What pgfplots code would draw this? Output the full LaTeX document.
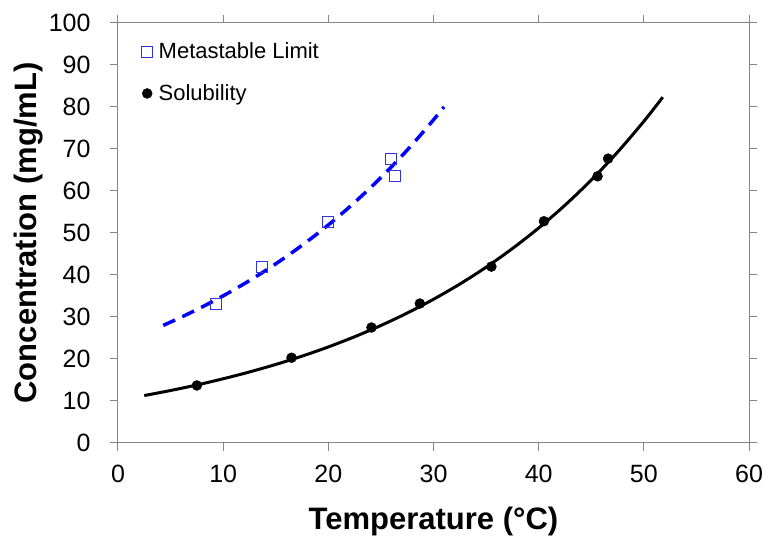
\documentclass[border=0pt]{standalone}
\usepackage{pgfplots}
\pgfplotsset{compat=1.18}
\usepackage{fontspec}
\setmainfont{Liberation Sans}
\definecolor{axgray}{RGB}{134,134,134}
\definecolor{sqblue}{RGB}{50,50,220}
\begin{document}
\begin{tikzpicture}
\begin{axis}[
  at={(0,0)}, anchor=south west,
  scale only axis,
  width=631pt, height=420pt,
  xmin=0, xmax=60, ymin=0, ymax=100,
  xtick={0,10,...,60}, ytick={0,10,...,100},
  tick align=outside,
  major tick length=8pt,
  axis line style={axgray, line width=1pt},
  every tick/.style={axgray, line width=1pt},
  tick label style={font=\fontsize{25}{29}\selectfont},
  xticklabel style={yshift=-11pt},
  yticklabel style={xshift=-16pt},
  /pgf/number format/assume math mode=true,
  xlabel={\textbf{Temperature (°C)}},
  ylabel={\textbf{Concentration (mg/mL)}},
  label style={font=\fontsize{31}{36}\selectfont},
  xlabel style={at={(axis description cs:0.5,-0.1857)}, anchor=center},
  ylabel style={at={(axis description cs:-0.1410,0.5)}, anchor=center},
  legend style={draw=none, fill=none, at={(axis description cs:0,1)}, anchor=north west,
    xshift=23.5pt, yshift=-18.7pt, inner sep=0pt, column sep=5pt,
    font=\fontsize{22}{26}\selectfont, row sep=22.4pt, nodes={inner sep=1pt}},
  legend cell align=left,
  legend image code/.code={\draw[#1] plot coordinates {(0cm,0cm)};},
  clip=false,
]
\addplot[only marks, mark=square, mark size=5.5pt, mark options={draw=sqblue, line width=1pt}]
  coordinates {(9.3,33.2) (13.7,42.0) (20.0,52.6) (26.0,67.5) (26.3,63.5)};
\addlegendentry{Metastable Limit}
\addplot[only marks, mark=*, mark size=5pt, black]
  coordinates {(7.5,13.7) (16.5,20.3) (24.1,27.5) (28.7,33.2) (35.5,42.0) (40.5,52.8) (45.6,63.5) (46.6,67.7)};
\addlegendentry{Solubility}
\addplot[blue, line width=3.5pt, dash pattern=on 13pt off 8pt, smooth, forget plot]
  coordinates {(4.3,28.0) (6,29.94) (8,32.39) (10,35.04) (12,37.91) (14,41.01) (16,44.37) (18,48.00) (20,51.92) (22,56.17) (24,60.77) (26,65.74) (28,71.12) (30,76.94) (31,80.02)};
\addplot[black, line width=3pt, smooth, forget plot]
  coordinates {(2.5,11.30) (5,12.50) (7.5,13.82) (10,15.29) (12.5,16.91) (15,18.70) (17.5,20.68) (20,22.87) (22.5,25.30) (25,27.98) (27.5,30.94) (30,34.22) (32.5,37.84) (35,41.85) (37.5,46.29) (40,51.19) (42.5,56.61) (45,62.61) (47.5,69.25) (50,76.58) (51.8,82.34)};
\end{axis}
\pgfresetboundingbox
\path[use as bounding box] (-118pt,-94pt) rectangle (649pt,443pt);
\end{tikzpicture}
\end{document}
